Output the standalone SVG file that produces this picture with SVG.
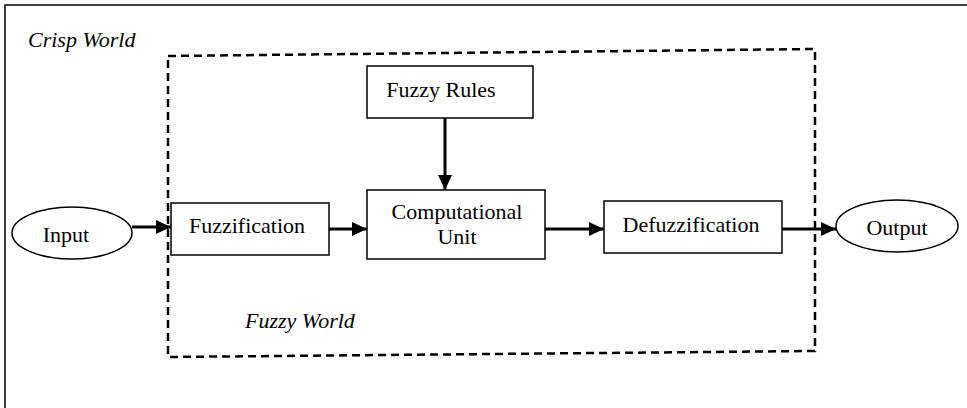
<svg xmlns="http://www.w3.org/2000/svg" width="967" height="408" viewBox="0 0 967 408">
<style>
.box{fill:#fff;stroke:#000;stroke-width:1.5}
.t{font-family:"Liberation Serif","Times New Roman",serif;font-size:22px;fill:#000;text-anchor:middle}
.it{font-family:"Liberation Serif","Times New Roman",serif;font-size:22px;font-style:italic;fill:#000}
.c{stroke:#000;stroke-width:3;fill:none;marker-end:url(#ah)}
</style>
<defs>
<marker id="ah" markerUnits="userSpaceOnUse" markerWidth="16" markerHeight="16" refX="15" refY="8" orient="auto">
<path d="M0,1 L15,8 L0,15 Z" fill="#000"/>
</marker>
</defs>
<rect width="967" height="408" fill="#fff"/>
<g id="frame">
<path d="M5,408 V5 H967" fill="none" stroke="#000" stroke-width="1.5"/>
<text class="it" x="28" y="47">Crisp World</text>
</g>
<g id="fuzzy-world">
<path d="M168,56 L815,49 L815,351 L168,357 Z" fill="none" stroke="#000" stroke-width="2.5" stroke-dasharray="8,5"/>
<text class="it" x="245" y="328">Fuzzy World</text>
</g>
<g id="connectors">
<line class="c" x1="132" y1="227" x2="171" y2="227"/>
<line class="c" x1="329" y1="229" x2="367" y2="229"/>
<line class="c" x1="445" y1="118" x2="445" y2="190"/>
<line class="c" x1="545" y1="229" x2="604" y2="229"/>
<line class="c" x1="782" y1="229" x2="836" y2="229"/>
</g>
<g id="input">
<ellipse class="box" cx="72" cy="233" rx="60" ry="26"/>
<text class="t" x="66" y="242">Input</text>
</g>
<g id="fuzzification">
<rect class="box" x="171" y="203" width="158" height="52"/>
<text class="t" x="247" y="233">Fuzzification</text>
</g>
<g id="fuzzy-rules">
<rect class="box" x="367" y="66" width="166" height="52"/>
<text class="t" x="441" y="97">Fuzzy Rules</text>
</g>
<g id="computational-unit">
<rect class="box" x="367" y="190" width="178" height="69"/>
<text class="t" x="457" y="219">Computational</text>
<text class="t" x="457" y="244">Unit</text>
</g>
<g id="defuzzification">
<rect class="box" x="604" y="201" width="178" height="52"/>
<text class="t" x="691" y="232">Defuzzification</text>
</g>
<g id="output">
<ellipse class="box" cx="897" cy="226" rx="61" ry="26"/>
<text class="t" x="897" y="235">Output</text>
</g>
</svg>
